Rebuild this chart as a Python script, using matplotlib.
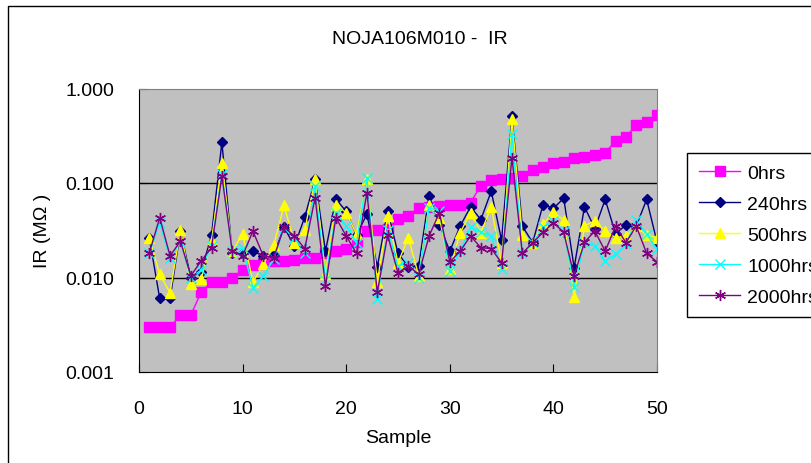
import numpy as np
import matplotlib.pyplot as plt
from matplotlib.patches import Rectangle

plt.rcParams['font.family'] = ['Liberation Sans', 'DejaVu Sans']

# ---- data (IR in MOhm per sample) ----
sample = np.arange(1, 51)

ir_0 = [0.003, 0.003, 0.003, 0.004, 0.004, 0.007, 0.009, 0.009, 0.010, 0.012,
        0.0135, 0.014, 0.015, 0.015, 0.0153, 0.016, 0.016, 0.018, 0.019, 0.020,
        0.024, 0.031, 0.032, 0.033, 0.042, 0.045, 0.054, 0.056, 0.057, 0.058,
        0.058, 0.062, 0.094, 0.107, 0.111, 0.114, 0.120, 0.137, 0.148, 0.162,
        0.167, 0.185, 0.190, 0.198, 0.210, 0.278, 0.307, 0.410, 0.446, 0.520]

ir_240 = [0.026, 0.006, 0.006, 0.031, 0.010, 0.0115, 0.028, 0.27, 0.018, 0.018,
          0.019, 0.017, 0.0173, 0.034, 0.0216, 0.0436, 0.109, 0.019, 0.068, 0.050,
          0.028, 0.047, 0.0129, 0.051, 0.018, 0.013, 0.0133, 0.073, 0.036, 0.019,
          0.035, 0.056, 0.041, 0.082, 0.0247, 0.51, 0.035, 0.0234, 0.059, 0.054,
          0.069, 0.0127, 0.056, 0.033, 0.067, 0.029, 0.036, 0.035, 0.067, 0.0238]

ir_500 = [0.0264, 0.0108, 0.0069, 0.032, 0.0085, 0.0096, 0.0243, 0.164, 0.019, 0.029,
          0.0089, 0.0138, 0.0219, 0.058, 0.0234, 0.032, 0.110, 0.0108, 0.059, 0.0485,
          0.0286, 0.110, 0.0089, 0.045, 0.0143, 0.0264, 0.0104, 0.059, 0.043, 0.0122,
          0.0298, 0.0485, 0.0298, 0.056, 0.0143, 0.47, 0.028, 0.0234, 0.0366, 0.049,
          0.0406, 0.0062, 0.035, 0.040, 0.031, 0.0264, 0.0275, 0.035, 0.028, 0.0264]

ir_1000 = [0.018, 0.038, 0.016, 0.024, 0.010, 0.012, 0.0216, 0.124, 0.019, 0.0207,
           0.0078, 0.0104, 0.0156, 0.0337, 0.0264, 0.0183, 0.093, 0.0095, 0.0485, 0.035,
           0.0234, 0.114, 0.0059, 0.032, 0.0132, 0.0144, 0.010, 0.055, 0.050, 0.0117,
           0.019, 0.034, 0.030, 0.0275, 0.0122, 0.327, 0.018, 0.0234, 0.034, 0.040,
           0.031, 0.008, 0.0234, 0.0216, 0.015, 0.0176, 0.0224, 0.041, 0.0286, 0.020]

ir_2000 = [0.0183, 0.043, 0.0169, 0.0243, 0.0104, 0.015, 0.0207, 0.119, 0.019, 0.017,
           0.031, 0.0169, 0.0162, 0.034, 0.0275, 0.0202, 0.070, 0.0081, 0.043, 0.0275,
           0.018, 0.079, 0.0070, 0.028, 0.0112, 0.0133, 0.0108, 0.0275, 0.0485, 0.0146,
           0.019, 0.0275, 0.0207, 0.0202, 0.0143, 0.185, 0.018, 0.0234, 0.030, 0.038,
           0.030, 0.0104, 0.0237, 0.031, 0.019, 0.035, 0.0234, 0.035, 0.018, 0.0146]

fig = plt.figure(figsize=(8.12, 4.64), dpi=100)
ax = fig.add_axes([139 / 812, 1 - 373 / 464, 518 / 812, 283.5 / 464])
ax.set_facecolor('#C0C0C0')

ax.plot(sample, ir_0, color='#FF00FF', marker='s', ms=6.5, lw=1, label='0hrs')
ax.plot(sample, ir_240, color='#000080', marker='D', ms=5.5, lw=1, label='240hrs')
ax.plot(sample, ir_500, color='#FFFF00', marker='^', ms=7.5, lw=1, label='500hrs')
ax.plot(sample, ir_1000, color='#00FFFF', marker='x', ms=7, mew=1, lw=1, label='1000hrs')
ax.plot(sample, ir_2000, color='#800080', marker=(6, 2, 0), ms=8, mew=1, lw=1, label='2000hrs')

ax.set_yscale('log')
ax.set_ylim(0.001, 1)
ax.set_xlim(0, 50)
ax.set_xticks(range(0, 51, 10))
ax.set_yticks([0.001, 0.01, 0.1, 1])
ax.set_yticklabels(['0.001', '0.010', '0.100', '1.000'])
ax.minorticks_off()
for v in [0.01, 0.1]:
    ax.axhline(v, color='black', lw=1, zorder=1)

ax.tick_params(axis='x', direction='in', length=6, labelsize=14, pad=20)
ax.tick_params(axis='y', direction='in', length=6, labelsize=14, pad=18)
for s in ['top', 'right']:
    ax.spines[s].set_color('#808080')
ax.set_xlabel('Sample', fontsize=14, labelpad=9)
ax.set_ylabel('IR (MΩ )', fontsize=14, labelpad=10)

fig.text(420 / 812, 1 - 39 / 464, 'NOJA106M010 -  IR', fontsize=14,
         ha='center', va='center')

leg = ax.legend(loc='upper left', bbox_to_anchor=(687 / 812, 1 - 154 / 464),
                bbox_transform=fig.transFigure, fontsize=14, frameon=True,
                fancybox=False, framealpha=1, edgecolor='black',
                handlelength=2.15, handletextpad=0.35, borderpad=0.6,
                borderaxespad=0, labelspacing=0.68)
leg.get_frame().set_linewidth(1)

fig.patches.append(Rectangle((8 / 812, -0.1), 2, 1.1 - 7 / 464, fill=False,
                             edgecolor='black', lw=1, transform=fig.transFigure))

fig.savefig('out.png', dpi=100)
